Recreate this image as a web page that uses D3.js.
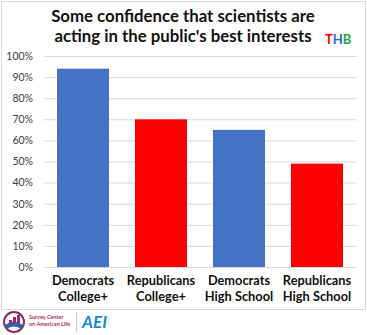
<!DOCTYPE html>
<html lang="en">
<head>
    <meta charset="UTF-8">
    <title>Confidence in scientists</title>
    <script src="https://d3js.org/d3.v7.min.js"></script>
    <style>
        body { margin: 0; background: #fff; }
        text { font-family: Lato, "Open Sans", sans-serif; }
    </style>
</head>
<body>
    <svg width="367" height="335"></svg>
    <script>
        var groups = [['Democrats', 'College+'], ['Republicans', 'College+'],
                      ['Democrats', 'High School'], ['Republicans', 'High School']];
        var values = [94, 70, 65, 49];
        var barColors = ['#4472c4', '#ff0000', '#4472c4', '#ff0000'];
        var ticks = [0, 10, 20, 30, 40, 50, 60, 70, 80, 90, 100];

        var svg = d3.select('svg');

        // chart frame
        svg.append('rect')
            .attr('x', 1.5).attr('y', 1.5)
            .attr('width', 364).attr('height', 308)
            .attr('fill', 'none').attr('stroke', '#d9d9d9');

        var x = d3.scaleBand().domain(d3.range(groups.length)).range([44, 356]).paddingInner(1 / 3).paddingOuter(1 / 6);
        var y = d3.scaleLinear().domain([0, 100]).range([267, 56]);

        // gridlines + y labels
        var yAxis = svg.append('g')
            .attr('transform', 'translate(44,0)')
            .call(d3.axisLeft(y).tickValues(ticks).tickSize(-313).tickPadding(11).tickFormat(d => d + '%'));
        yAxis.select('.domain').remove();
        yAxis.selectAll('line').attr('stroke', '#d9d9d9');
        yAxis.selectAll('text').attr('fill', '#404040').style('font-size', '10.5px');

        svg.selectAll('rect.bar').data(values)
            .enter().append('rect')
            .attr('class', 'bar')
            .attr('x', (d, i) => x(i))
            .attr('width', x.bandwidth())
            .attr('y', d => y(d))
            .attr('height', d => y(0) - y(d))
            .attr('fill', (d, i) => barColors[i]);

        // baseline
        svg.append('line')
            .attr('x1', 44).attr('x2', 357)
            .attr('y1', y(0) + 0.5).attr('y2', y(0) + 0.5)
            .attr('stroke', '#d9d9d9');

        // category labels, two lines each
        [285, 300.5].forEach(function (ly, k) {
            svg.selectAll('text.cat' + k).data(groups)
                .enter().append('text')
                .attr('class', 'cat' + k)
                .attr('x', (d, i) => x(i) + x.bandwidth() / 2)
                .attr('y', ly)
                .attr('text-anchor', 'middle')
                .attr('font-weight', 'bold')
                .style('font-size', '12.8px')
                .attr('fill', '#111')
                .text(d => d[k]);
        });

        // title
        var title = svg.append('text')
            .attr('text-anchor', 'middle')
            .attr('font-weight', 'bold')
            .style('font-size', '16.8px')
            .attr('fill', '#111');
        title.append('tspan').attr('x', 183).attr('y', 22).text('Some confidence that scientists are');
        title.append('tspan').attr('x', 183).attr('y', 42).text("acting in the public's best interests");

        // THB mark
        var thb = svg.append('text')
            .attr('x', 325).attr('y', 44)
            .attr('font-weight', 'bold')
            .style('font-size', '13px');
        thb.append('tspan').attr('fill', '#ff0000').text('T');
        thb.append('tspan').attr('fill', '#1f6fc5').text('H');
        thb.append('tspan').attr('fill', '#22a844').text('B');

        // footer logos
        var foot = svg.append('g');
        foot.append('circle').attr('cx', 14).attr('cy', 322).attr('r', 10)
            .attr('fill', 'none').attr('stroke', '#8a2a6b').attr('stroke-width', 2);
        foot.append('path').attr('d', 'M5,325 Q14,318 23,325 L22,329 Q14,324 6,329 Z').attr('fill', '#3b5ea8');
        [[9, 320, 3], [13, 317, 6], [17, 315, 8]].forEach(function (b) {
            foot.append('rect').attr('x', b[0]).attr('y', b[1]).attr('width', 3).attr('height', b[2]).attr('fill', '#9b2a6a');
        });
        foot.append('text').attr('x', 29).attr('y', 319).attr('fill', '#b0306a')
            .style('font-size', '5.5px').attr('font-weight', 'bold').text('Survey Center');
        foot.append('text').attr('x', 29).attr('y', 326).attr('fill', '#b0306a')
            .style('font-size', '5.5px').attr('font-weight', 'bold').text('on American Life');
        foot.append('line').attr('x1', 76.5).attr('x2', 76.5).attr('y1', 312).attr('y2', 332)
            .attr('stroke', '#cccccc');
        foot.append('text').attr('x', 82).attr('y', 328).attr('fill', '#1a8ad4')
            .style('font-size', '17px').attr('font-weight', 'bold').attr('font-style', 'italic')
            .text('AEI');
    </script>
</body>
</html>
